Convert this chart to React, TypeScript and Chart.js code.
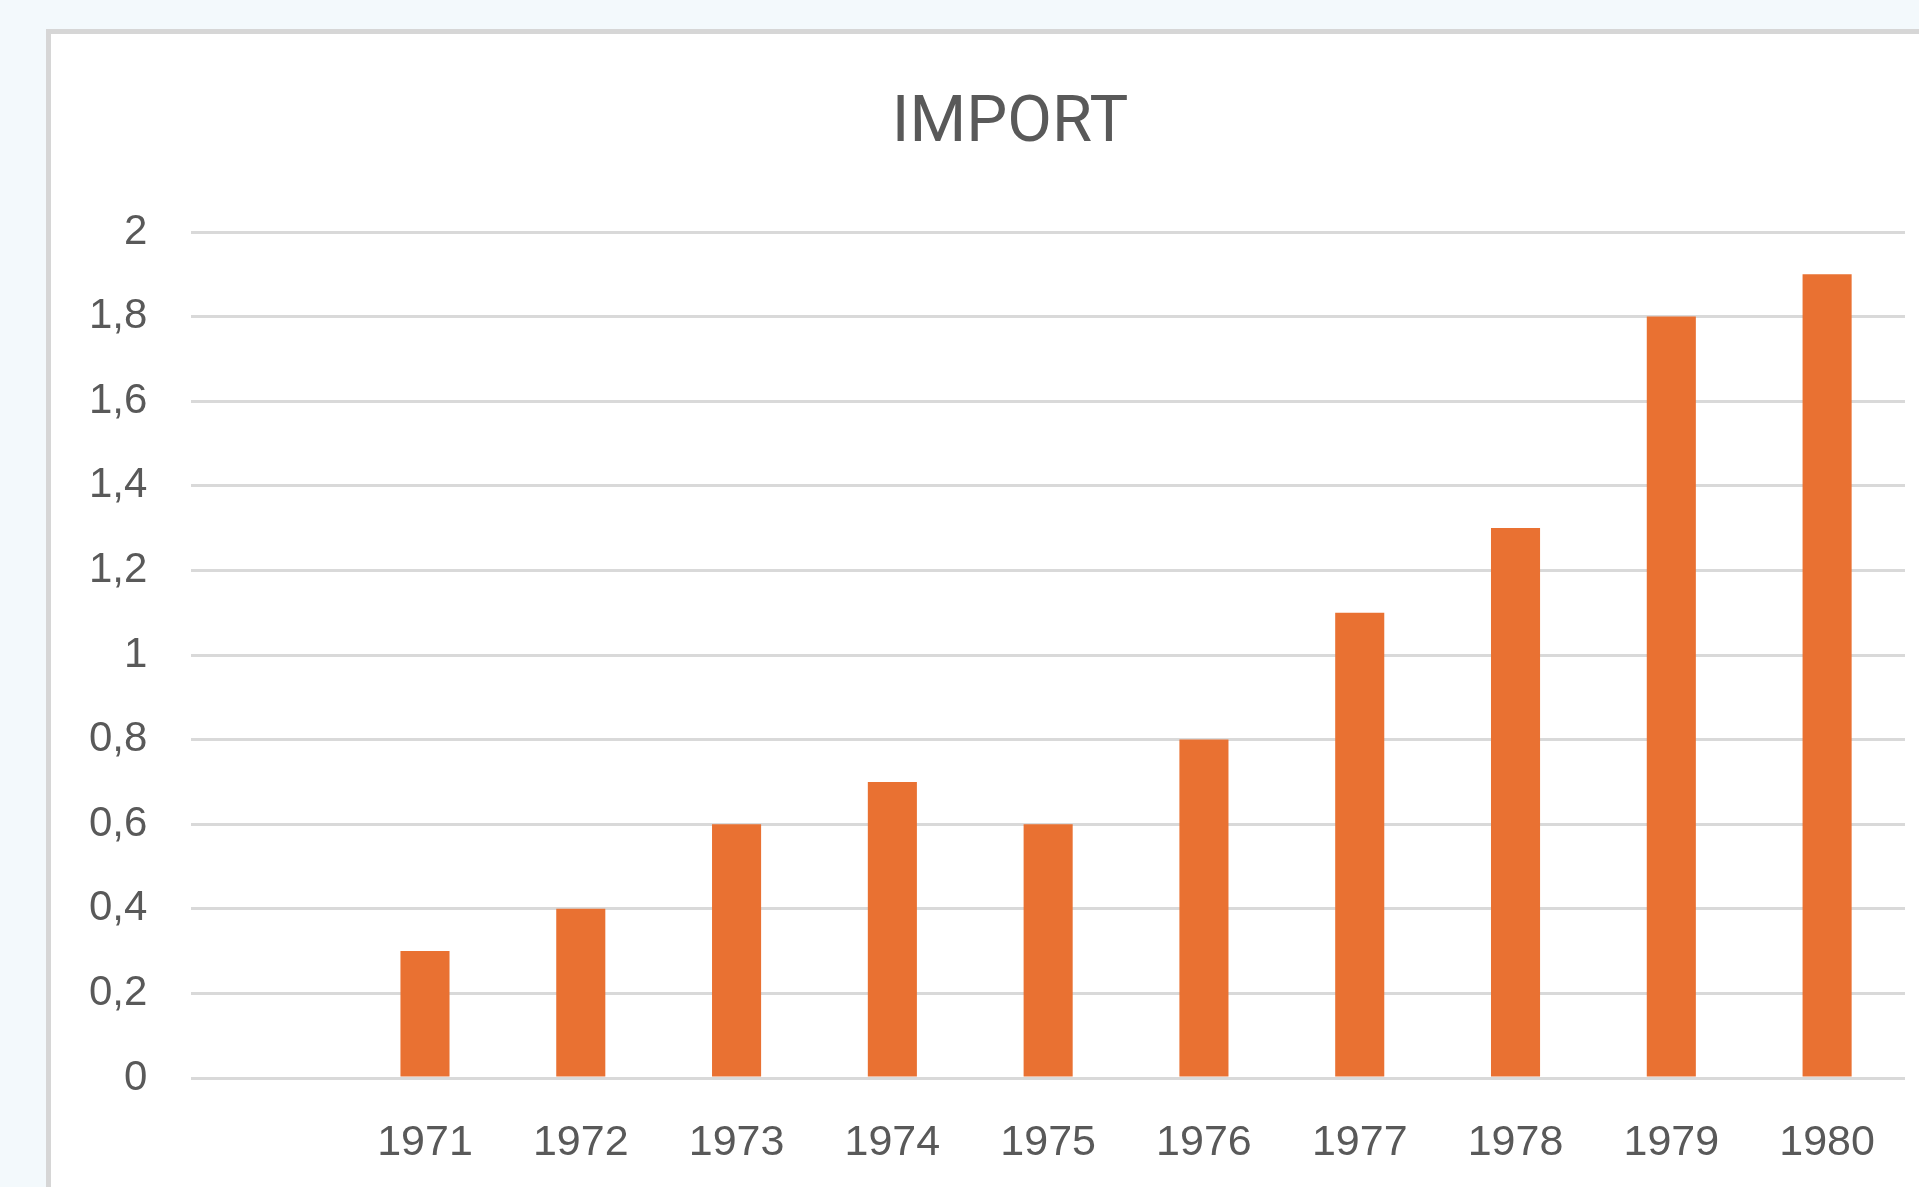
import React, { useEffect, useRef } from "react";
import { Chart, registerables } from "chart.js";

Chart.register(...registerables);

const chartTitle = "IMPORT";
const years = ["", "1971", "1972", "1973", "1974", "1975", "1976", "1977", "1978", "1979", "1980"];
const importValues = [null, 0.3, 0.4, 0.6, 0.7, 0.6, 0.8, 1.1, 1.3, 1.8, 1.9];
const yTickLabels = ["0", "0,2", "0,4", "0,6", "0,8", "1", "1,2", "1,4", "1,6", "1,8", "2"];

export default function App() {
  const canvasRef = useRef<HTMLCanvasElement | null>(null);

  useEffect(() => {
    document.body.style.margin = "0";
    const canvas = canvasRef.current;
    if (!canvas) return;
    const chart = new Chart(canvas, {
      type: "bar",
      data: {
        labels: years,
        datasets: [
          {
            label: chartTitle,
            data: importValues,
            backgroundColor: "#E97132",
            borderWidth: 0,
            categoryPercentage: 1,
            barPercentage: 0.315,
          },
        ],
      },
      options: {
        animation: false,
        responsive: false,
        maintainAspectRatio: false,
        layout: { padding: { left: 0, right: 0, top: 0, bottom: 0 } },
        plugins: {
          legend: { display: false },
          tooltip: { enabled: false },
          title: {
            display: true,
            text: chartTitle,
            color: "#595959",
            font: { family: "Roboto", size: 65, weight: "normal", lineHeight: 1.2 },
            padding: { top: 52, bottom: 68 },
          },
        },
        scales: {
          x: {
            grid: { display: false },
            border: { display: false },
            ticks: {
              color: "#595959",
              font: { family: "Liberation Sans", size: 43 },
              padding: 31,
              maxRotation: 0,
              autoSkip: false,
            },
            afterFit: (scale: any) => {
              scale.height = 109;
            },
          },
          y: {
            min: 0,
            max: 2,
            border: { display: false },
            grid: { color: "#d9d9d9", lineWidth: 3, drawTicks: false },
            ticks: {
              stepSize: 0.2,
              color: "#595959",
              font: { family: "Liberation Sans", size: 42 },
              padding: 44,
              callback: (_v: any, i: number) => yTickLabels[i],
            },
            afterFit: (scale: any) => {
              scale.width = 140.3;
            },
          },
          yRight: {
            position: "right",
            display: true,
            min: 0,
            max: 2,
            grid: { display: false, drawTicks: false },
            border: { display: false },
            ticks: { display: false },
            afterFit: (scale: any) => {
              scale.width = 64;
            },
          },
        },
      },
    });
    return () => chart.destroy();
  }, []);

  return (
    <div
      style={{
        position: "absolute",
        left: 0,
        top: 0,
        width: 1919,
        height: 1187,
        overflow: "hidden",
        background: "#f3f9fc",
      }}
    >
      <div
        style={{
          position: "absolute",
          left: 46,
          top: 29,
          width: 1950,
          height: 1200,
          background: "#ffffff",
          borderLeft: "5px solid #d6d6d6",
          borderTop: "5px solid #d6d6d6",
        }}
      >
        <canvas ref={canvasRef} width={1918} height={1153} style={{ display: "block", width: 1918, height: 1153 }} />
      </div>
    </div>
  );
}
